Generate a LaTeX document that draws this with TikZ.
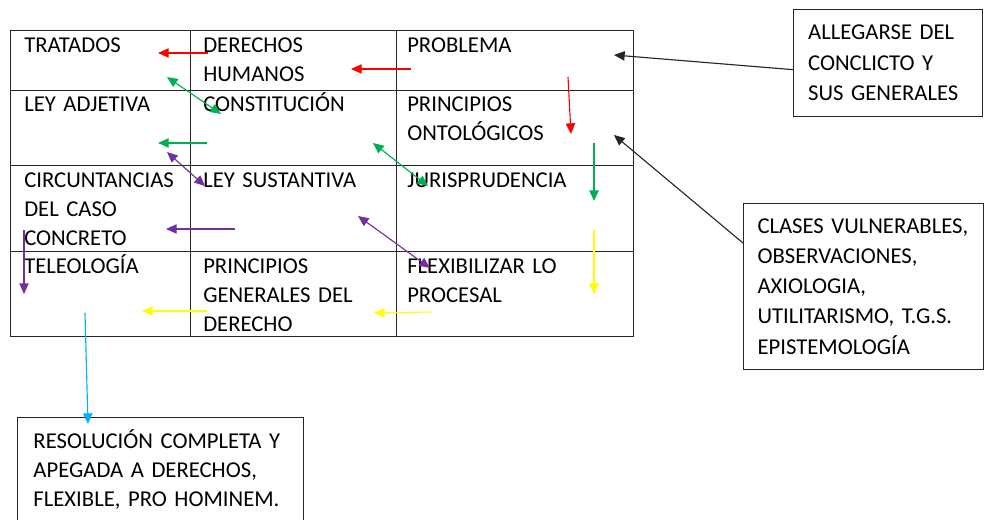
\documentclass[tikz,border=0pt]{standalone}
\usepackage{fontspec}
\setmainfont{Carlito}
\usepackage[HTML]{xcolor}
\usepackage{tikz}
\usetikzlibrary{positioning, arrows.meta}

\definecolor{ofred}{HTML}{FF0000}
\definecolor{ofgreen}{HTML}{00B050}
\definecolor{ofpurple}{HTML}{7030A0}
\definecolor{ofyellow}{HTML}{FFFF00}
\definecolor{ofcyan}{HTML}{00B0F0}

\newcommand{\cellfont}{\fontsize{17}{21.75}\selectfont}

\tikzset{
  grid/.style={draw=black!85, line width=0.75pt},
  cell/.style={anchor=base west, inner sep=0pt, text width=150pt, align=left, font=\cellfont},
  note/.style={draw=black!85, line width=0.75pt, anchor=north west, align=left, inner ysep=0pt, font=\cellfont},
  link/.style={-{Triangle[length=8pt,width=7pt]}, line width=0.85pt},
  both/.style={{Triangle[length=8pt,width=7pt]}-{Triangle[length=8pt,width=7pt]}, line width=0.85pt}
}

\begin{document}
\begin{tikzpicture}[x=0.75pt, y=-0.75pt]
\clip (0,0) rectangle (984,520);

% table
\draw[grid] (10,31) rectangle (633,336);
\foreach \x in {190,396}{
  \draw[grid] (\x,31) -- (\x,336);
}
\foreach \y in {91,166,251}{
  \draw[grid] (10,\y) -- (633,\y);
}

% cells
\node[cell] (tratados) at (24,53) {TRATADOS};
\node[cell] (derechos) at (203,53) {DERECHOS\\HUMANOS};
\node[cell] (problema) at (407,53) {PROBLEMA};
\node[cell] (adjetiva) at (24,112) {LEY ADJETIVA};
\node[cell] (constitucion) at (203,112) {CONSTITUCIÓN};
\node[cell] (ontologicos) at (407,112) {PRINCIPIOS\\ONTOLÓGICOS};
\node[cell] (circunstancias) at (24,188) {CIRCUNTANCIAS\\DEL CASO\\CONCRETO};
\node[cell] (sustantiva) at (203,188) {LEY SUSTANTIVA};
\node[cell] (jurisprudencia) at (407,188) {JURISPRUDENCIA};
\node[cell] (teleologia) at (24,273) {TELEOLOGÍA};
\node[cell] (generales) at (203,273) {PRINCIPIOS\\GENERALES DEL\\DERECHO};
\node[cell] (flexibilizar) at (407,273) {FLEXIBILIZAR LO\\PROCESAL};

% side boxes
\node[note, minimum width=141.75pt, minimum height=80.25pt, inner xsep=11pt, text width=119.75pt,
  font=\fontsize{17}{23}\selectfont] (allegarse) at (793,9)
  {ALLEGARSE DEL\\CONCLICTO Y\\SUS GENERALES};
\node[note, minimum width=180pt, minimum height=124.5pt, inner xsep=10.5pt, text width=159pt,
  font=\fontsize{17}{22.6}\selectfont] (clases) at (743,203)
  {CLASES~VULNERABLES,\\OBSERVACIONES,\\AXIOLOGIA,\\UTILITARISMO, T.G.S.\\EPISTEMOLOGÍA};
\node[note, minimum width=214.5pt, minimum height=78pt, inner xsep=12pt, text width=190.5pt] (resolucion) at (17,417)
  {RESOLUCIÓN COMPLETA Y\\APEGADA A DERECHOS,\\FLEXIBLE, PRO HOMINEM.};

% arrow ends
\coordinate (r1s) at (208,53);  \coordinate (r1e) at (158,53);
\coordinate (r2s) at (411,69);  \coordinate (r2e) at (351,69);
\coordinate (r3s) at (568,77);  \coordinate (r3e) at (571,134);
\coordinate (g1a) at (167,77);  \coordinate (g1b) at (221,114);
\coordinate (g2s) at (207,143); \coordinate (g2e) at (158,143);
\coordinate (g3a) at (373,143); \coordinate (g3b) at (428,186);
\coordinate (g4s) at (594,143); \coordinate (g4e) at (594,201);
\coordinate (p1a) at (167,152); \coordinate (p1b) at (205,186);
\coordinate (p2s) at (235,229); \coordinate (p2e) at (166,229);
\coordinate (p3s) at (24,230);  \coordinate (p3e) at (24,294);
\coordinate (p4a) at (358,216); \coordinate (p4b) at (430,268);
\coordinate (y1s) at (207,311); \coordinate (y1e) at (142,311);
\coordinate (y2s) at (431,312); \coordinate (y2e) at (374,313);
\coordinate (y3s) at (594,230); \coordinate (y3e) at (594,294);
\coordinate (c1s) at (85,313);  \coordinate (c1e) at (88,424);
\coordinate (k1e) at (614,55);  \coordinate (k2e) at (614,135);

% red
\draw[link, ofred] (r1s) -- (r1e);
\draw[link, ofred] (r2s) -- (r2e);
\draw[link, ofred] (r3s) -- (r3e);
% green
\draw[both, ofgreen] (g1a) -- (g1b);
\draw[link, ofgreen] (g2s) -- (g2e);
\draw[both, ofgreen] (g3a) -- (g3b);
\draw[link, ofgreen] (g4s) -- (g4e);
% purple
\draw[both, ofpurple] (p1a) -- (p1b);
\draw[link, ofpurple] (p2s) -- (p2e);
\draw[link, ofpurple] (p3s) -- (p3e);
\draw[both, ofpurple] (p4a) -- (p4b);
% yellow
\draw[link, ofyellow] (y1s) -- (y1e);
\draw[link, ofyellow] (y2s) -- (y2e);
\draw[link, ofyellow] (y3s) -- (y3e);
% to the result
\draw[link, ofcyan] (c1s) -- (c1e);
% notes into the table
\draw[link, black!85] ([yshift=-5pt]allegarse.west) -- (k1e);
\draw[link, black!85] ([yshift=-30pt]clases.north west) -- (k2e);
\end{tikzpicture}
\end{document}
